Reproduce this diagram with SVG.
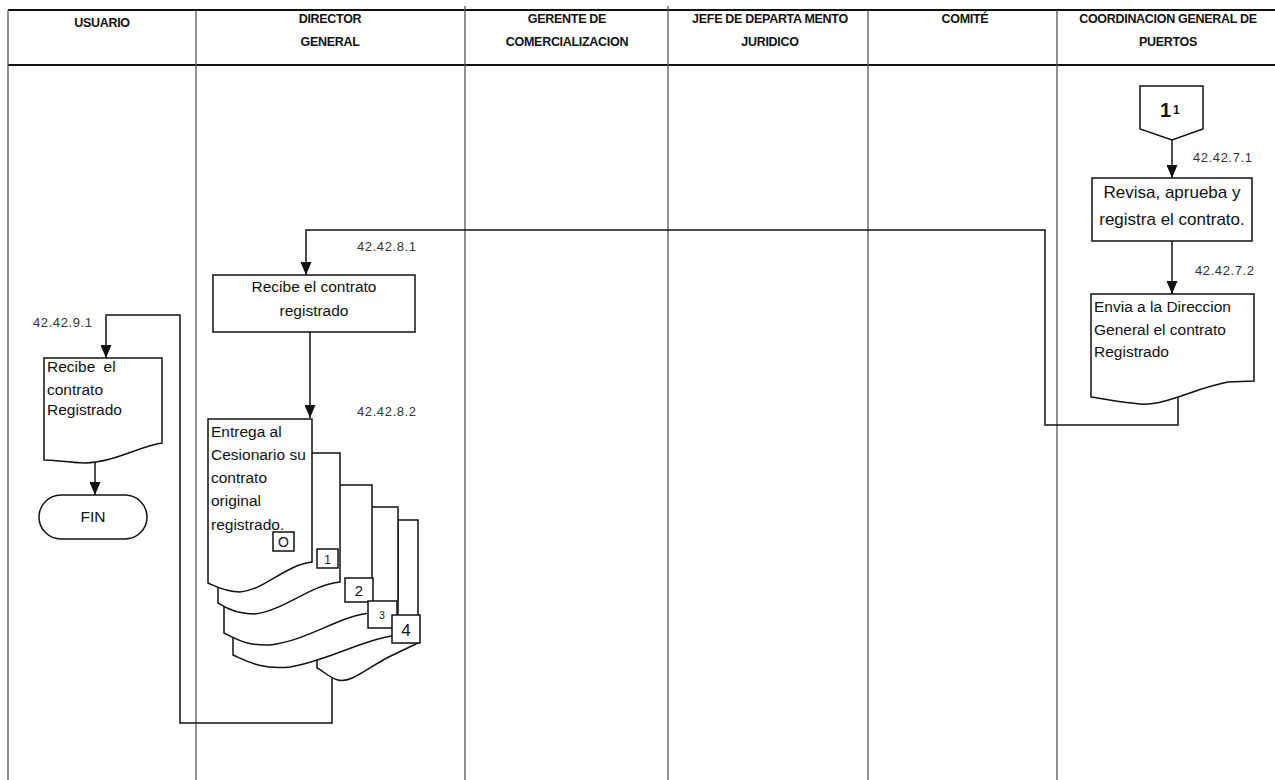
<svg xmlns="http://www.w3.org/2000/svg" width="1275" height="780" viewBox="0 0 1275 780">
<style>
.hdr{font-family:"Liberation Sans",Arial,sans-serif;font-weight:bold;font-size:12.5px;text-anchor:middle;fill:#111;letter-spacing:-0.3px}
.lane{stroke:#555;stroke-width:1.3;fill:none}
.frame{stroke:#111;stroke-width:2;fill:none}
.shape{fill:#fff;stroke:#111;stroke-width:1.5}
.txt{font-family:"Liberation Sans",Arial,sans-serif;font-size:15.5px;fill:#111}
.lbl{font-family:"Liberation Sans",Arial,sans-serif;font-size:13px;fill:#333;letter-spacing:0.6px}
.con{stroke:#111;stroke-width:1.5;fill:none}
.ctr{text-anchor:middle}
</style>
<defs>
<marker id="arr" markerWidth="13" markerHeight="11" refX="13" refY="5.5" orient="auto" markerUnits="userSpaceOnUse" viewBox="0 0 13 11">
<path d="M0,0 L13,5.5 L0,11 Z" fill="#111"/>
</marker>
</defs>
<rect width="1275" height="780" fill="#fff"/>
<g id="lanes">
<line class="frame" x1="8" y1="10" x2="1275" y2="10"/>
<line class="frame" x1="8" y1="65" x2="1275" y2="65"/>
<line class="lane" x1="8" y1="10" x2="8" y2="780"/>
<line class="lane" x1="196" y1="10" x2="196" y2="780"/>
<line class="lane" x1="465" y1="6" x2="465" y2="780"/>
<line class="lane" x1="668" y1="6" x2="668" y2="780"/>
<line class="lane" x1="868" y1="10" x2="868" y2="780"/>
<line class="lane" x1="1057" y1="10" x2="1057" y2="780"/>
<text class="hdr" x="102" y="27">USUARIO</text>
<text class="hdr" x="330" y="23">DIRECTOR</text>
<text class="hdr" x="330" y="46">GENERAL</text>
<text class="hdr" x="567" y="23">GERENTE DE</text>
<text class="hdr" x="567" y="46">COMERCIALIZACION</text>
<text class="hdr" x="770" y="23">JEFE DE DEPARTA MENTO</text>
<text class="hdr" x="770" y="46">JURIDICO</text>
<text class="hdr" x="965" y="23">COMITÉ</text>
<text class="hdr" x="1168" y="23">COORDINACION GENERAL DE</text>
<text class="hdr" x="1168" y="46">PUERTOS</text>
</g>
<g id="connectors">
<path class="con" d="M1172,140 L1172,178" marker-end="url(#arr)"/>
<path class="con" d="M1172,241 L1172,294" marker-end="url(#arr)"/>
<path class="con" d="M1178,396 L1178,425 L1045,425 L1045,230 L306,230 L306,275" marker-end="url(#arr)"/>
<path class="con" d="M310,332 L310,418" marker-end="url(#arr)"/>
<path class="con" d="M332,678 L332,723 L180,723 L180,315 L106,315 L106,358" marker-end="url(#arr)"/>
<path class="con" d="M95,462 L95,495" marker-end="url(#arr)"/>
<text class="lbl" x="1193" y="162">42.42.7.1</text>
<text class="lbl" x="1195" y="275">42.42.7.2</text>
<text class="lbl" x="357" y="251">42.42.8.1</text>
<text class="lbl" x="357" y="416">42.42.8.2</text>
<text class="lbl" x="33" y="327">42.42.9.1</text>
</g>
<g id="n-conector">
<path class="shape" d="M1140,86 L1203,86 L1203,129 L1172,140 L1140,129 Z"/>
<text x="1160" y="117" style="font-family:'Liberation Sans',Arial,sans-serif;font-weight:bold;font-size:20px;fill:#111">1</text>
<text x="1173" y="114" style="font-family:'Liberation Sans',Arial,sans-serif;font-weight:bold;font-size:12px;fill:#111">1</text>
</g>
<g id="n-revisa">
<rect class="shape" x="1092" y="178" width="160" height="63"/>
<text class="txt ctr" style="font-size:17px" x="1172" y="198">Revisa, aprueba y</text>
<text class="txt ctr" style="font-size:17px" x="1172" y="225">registra el contrato.</text>
</g>
<g id="n-envia">
<path class="shape" d="M1091,294 L1254,294 L1254,381 L1228,382 C1195,388 1165,406 1140,404 C1115,402 1100,398 1091,397 Z"/>
<text class="txt" x="1094" y="312">Envia a la Direccion</text>
<text class="txt" x="1094" y="335">General el contrato</text>
<text class="txt" x="1094" y="357">Registrado</text>
</g>
<g id="n-recibe-dir">
<rect class="shape" x="213" y="275" width="202" height="57"/>
<text class="txt ctr" x="314" y="292">Recibe el contrato</text>
<text class="txt ctr" x="314" y="316">registrado</text>
</g>
<g id="n-entrega">
<path class="shape" d="M398,520 L418,520 L418,643 L395,654 C370,665 352,684 338,680 C328,677 322,670 317,668 L317,600 L398,600 Z"/>
<path class="shape" d="M233,507 L398,507 L398,635 C360,640 330,660 290,667 C260,670 245,660 233,655 Z"/>
<path class="shape" d="M224,485 L372,485 L372,613 C340,615 310,640 270,645 C245,646 235,638 224,633 Z"/>
<path class="shape" d="M218,453 L340,453 L340,582 C310,585 285,610 255,614 C235,614 225,607 218,603 Z"/>
<path class="shape" d="M208,419 L312,419 L312,562 C285,565 265,590 240,592 C225,592 215,586 208,583 Z"/>
<text class="txt" x="211" y="437">Entrega al</text>
<text class="txt" x="211" y="460">Cesionario su</text>
<text class="txt" x="211" y="483">contrato</text>
<text class="txt" x="211" y="506">original</text>
<text class="txt" x="211" y="530">registrado.</text>
<rect class="shape" stroke-width="1.2" x="273" y="532" width="21" height="19"/>
<text class="txt ctr" style="font-size:14px" x="283.5" y="547">O</text>
<rect class="shape" stroke-width="1.2" x="317" y="549" width="21" height="19"/>
<text class="txt ctr" style="font-size:12px" x="327.5" y="564">1</text>
<rect class="shape" stroke-width="1.2" x="345" y="578" width="28" height="24"/>
<text class="txt ctr" style="font-size:15px" x="359" y="596">2</text>
<rect class="shape" stroke-width="1.2" x="368" y="601" width="29" height="27"/>
<text class="txt ctr" style="font-size:10px" x="382" y="619">3</text>
<rect class="shape" stroke-width="1.2" x="392" y="615" width="28" height="28"/>
<text class="txt ctr" style="font-size:17px" x="406" y="636">4</text>
</g>
<g id="n-recibe-usu">
<path class="shape" d="M44,358 L162,358 L162,443 C140,446 115,462 85,463 C65,462 55,460 44,460 Z"/>
<text class="txt" x="47" y="372" word-spacing="4">Recibe el</text>
<text class="txt" x="47" y="395">contrato</text>
<text class="txt" x="47" y="415">Registrado</text>
</g>
<g id="n-fin">
<rect class="shape" x="39" y="495" width="108" height="44" rx="22" ry="22"/>
<text class="txt ctr" x="93" y="522">FIN</text>
</g>
</svg>
